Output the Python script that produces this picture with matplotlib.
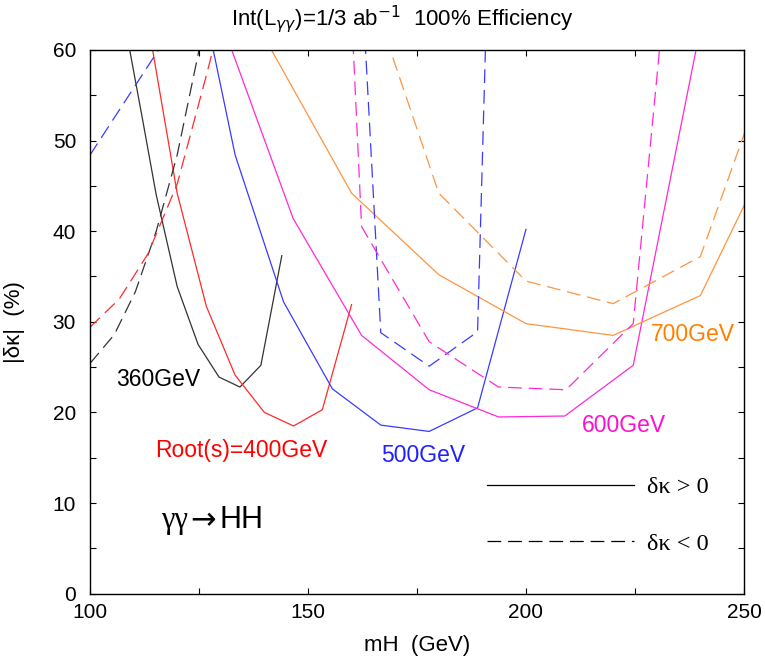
import matplotlib
matplotlib.use("Agg")
import matplotlib.pyplot as plt
from matplotlib.lines import Line2D
from matplotlib.ticker import MultipleLocator

# |delta kappa| reach vs. Higgs mass, gamma gamma -> HH, for several collider energies
# solid: dk > 0, dashed: dk < 0
mh_360_pos = [109.0, 112.0, 115.2, 120.0, 124.8, 129.6, 134.4, 139.2, 144.0]
dk_360_pos = [60.3, 52.5, 44.0, 33.9, 27.5, 23.9, 22.8, 25.2, 37.3]
mh_360_neg = [100.0, 105.6, 110.4, 115.2, 120.0, 124.8, 129.6]
dk_360_neg = [25.4, 28.6, 33.3, 40.0, 48.4, 59.5, 73.0]

mh_400_pos = [113.3, 120.0, 126.7, 133.3, 140.0, 146.7, 153.3, 160.0]
dk_400_pos = [63.0, 44.2, 31.7, 24.1, 20.0, 18.5, 20.3, 31.9]
mh_400_neg = [100.0, 106.7, 113.3, 120.0, 126.7, 133.3]
dk_400_neg = [29.4, 32.5, 37.5, 45.2, 57.2, 69.6]

mh_500_pos = [122.2, 133.3, 144.4, 155.6, 166.7, 177.8, 188.9, 200.0]
dk_500_pos = [74.0, 48.4, 32.2, 22.6, 18.6, 17.9, 20.5, 40.2]
mh_500_neg_low = [100.0, 111.1, 122.2]
dk_500_neg_low = [48.4, 56.6, 64.8]
mh_500_neg = [155.6, 166.7, 177.8, 188.9, 200.0]
dk_500_neg = [128.0, 28.8, 25.1, 28.9, 221.0]

mh_600_pos = [131.0, 146.6, 162.3, 177.8, 193.7, 208.9, 224.6, 240.0]
dk_600_pos = [62.0, 41.4, 28.5, 22.5, 19.5, 19.6, 25.2, 62.4]
mh_600_neg = [147.7, 162.3, 177.8, 193.7, 209.2, 224.6, 240.0]
dk_600_neg = [191.0, 40.5, 27.8, 22.8, 22.5, 29.8, 107.0]

mh_700_pos = [140.0, 160.0, 180.0, 200.0, 220.0, 240.0, 260.0]
dk_700_pos = [61.4, 44.2, 35.2, 29.8, 28.5, 32.9, 52.7]
mh_700_neg = [160.0, 180.0, 200.0, 220.0, 240.0, 260.0]
dk_700_neg = [72.6, 44.2, 34.5, 32.0, 37.2, 64.1]

c360, c400, c500, c600, c700 = "#333333", "#ff2a2a", "#3a3aff", "#ff2ad4", "#ff9440"
DASH = (11, 5.5)
LW = 0.9

fig = plt.figure(figsize=(7.65, 6.56), dpi=100)
ax = fig.add_axes([0.1176, 0.0951, 0.8549, 0.8287])

solid = [(mh_360_pos, dk_360_pos, c360), (mh_400_pos, dk_400_pos, c400),
         (mh_500_pos, dk_500_pos, c500), (mh_600_pos, dk_600_pos, c600),
         (mh_700_pos, dk_700_pos, c700)]
dashed = [(mh_360_neg, dk_360_neg, c360), (mh_400_neg, dk_400_neg, c400),
          (mh_500_neg_low, dk_500_neg_low, c500), (mh_500_neg, dk_500_neg, c500),
          (mh_600_neg, dk_600_neg, c600), (mh_700_neg, dk_700_neg, c700)]
for x, y, c in solid:
    ax.plot(x, y, color=c, lw=LW)
for x, y, c in dashed:
    ax.plot(x, y, color=c, lw=LW, dashes=DASH)

ax.set_xlim(100, 250)
ax.set_ylim(0, 60)
ax.xaxis.set_major_locator(MultipleLocator(50))
ax.xaxis.set_minor_locator(MultipleLocator(25))
ax.yaxis.set_major_locator(MultipleLocator(10))
ax.yaxis.set_minor_locator(MultipleLocator(5))
ax.tick_params(which="both", direction="in", top=True, right=True,
               length=4.5, width=0.8, labelsize=15)
ax.tick_params(axis="x", pad=7)
ax.tick_params(axis="y", pad=10)
for lab in ax.get_xticklabels() + ax.get_yticklabels():
    lab.set_family("Liberation Sans")
for s in ax.spines.values():
    s.set_linewidth(1.0)

sans = "Liberation Sans"
ax.set_xlabel("mH  (GeV)", family=sans, fontsize=16)
ax.xaxis.set_label_coords(0.5, -0.077)
ax.set_ylabel("|δκ|  (%)", family=sans, fontsize=16)
ax.yaxis.set_label_coords(-0.1, 0.5)

fig.text(0.526, 0.971, r"Int(L$_{\gamma\gamma}$)=1/3 ab$^{-1}$  100% Efficiency",
         family=sans, fontsize=16, ha="center", va="center")

# energy labels
lbl = dict(family=sans, fontsize=16.5, va="center")
ax.text(106, 23.6, "360GeV", color="black", **lbl)
ax.text(114.9, 15.8, "Root(s)=400GeV", color="#ff0000", **lbl)
ax.text(166.7, 15.2, "500GeV", color="#2020ff", **lbl)
ax.text(212.8, 18.6, "600GeV", color="#ff10cc", **lbl)
ax.text(228.7, 28.6, "700GeV", color="#ff8000", **lbl)

# process label: greek part in serif, arrow, particle names in sans
ax.text(116.4, 8.1, "γγ", family="Liberation Serif", fontsize=22, va="center")
ax.text(122.9, 8.1, "→", family="DejaVu Sans", fontsize=22, va="center")
ax.text(129.8, 8.1, "HH", family=sans, fontsize=22, va="center")

handles = [Line2D([], [], color="black", lw=LW),
           Line2D([], [], color="black", lw=LW, dashes=DASH)]
ax.legend(handles, ["δκ > 0", "δκ < 0"], loc="upper left", bbox_to_anchor=(0.607, 0.216),
          frameon=False, prop={"family": "Liberation Serif", "size": 17.5},
          handlelength=6.05, handletextpad=0.54, labelspacing=1.42,
          borderpad=0, borderaxespad=0)

fig.savefig("out.png", dpi=100)
